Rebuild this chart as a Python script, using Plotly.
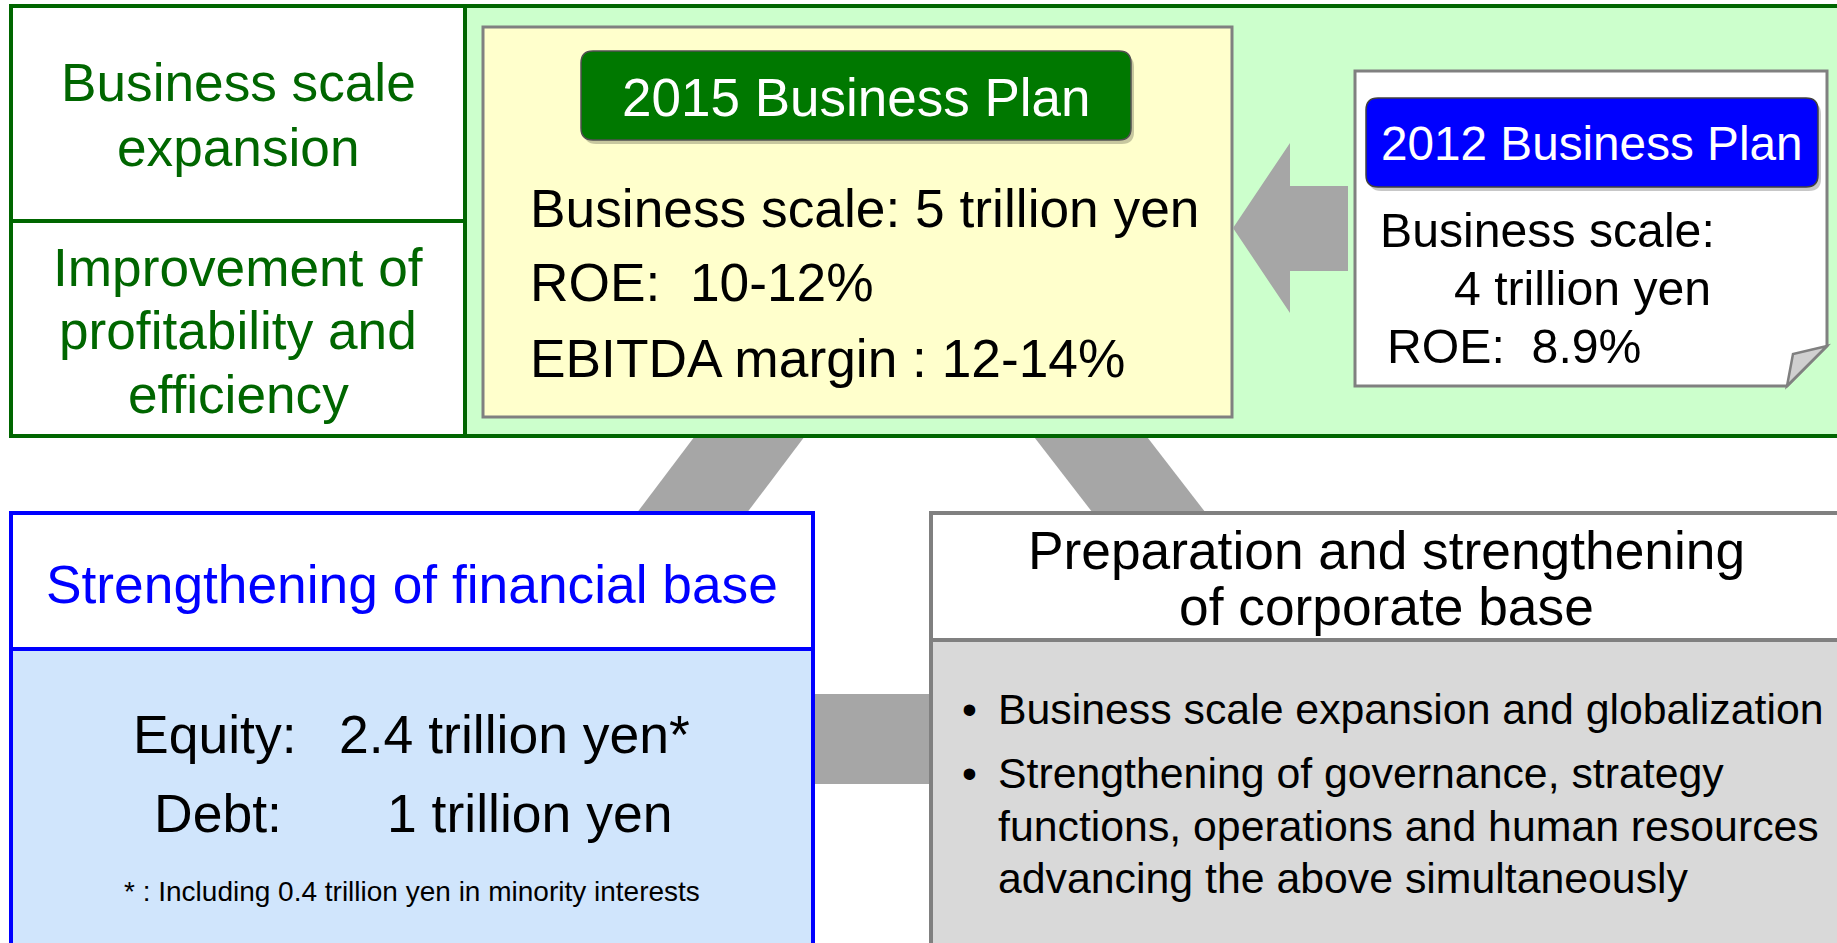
import plotly.graph_objects as go

W, H = 1837, 943
FONT = "Liberation Sans, Arial, sans-serif"

# ---------------- content ----------------
left_labels = ["Business scale", "expansion", "Improvement of", "profitability and", "efficiency"]
plan2015_title = "2015 Business Plan"
plan2015_items = ["Business scale: 5 trillion yen", "ROE:&nbsp; 10-12%", "EBITDA margin : 12-14%"]
plan2012_title = "2012 Business Plan"
plan2012_items = ["Business scale:", "4 trillion yen", "ROE:&nbsp; 8.9%"]
fin_title = "Strengthening of financial base"
fin_labels = ["Equity:", "Debt:"]
fin_values = ["2.4 trillion yen*", "1 trillion yen"]
fin_note = "* : Including 0.4 trillion yen in minority interests"
corp_title = ["Preparation and strengthening", "of corporate base"]
corp_bullets = ["Business scale expansion and globalization",
                "Strengthening of governance, strategy",
                "functions, operations and human resources",
                "advancing the above simultaneously"]
corp_bullet_starts = [True, True, False, False]

# ---------------- colours ----------------
GREEN_DARK = "#006600"
GREEN_FILL = "#CCFFCC"
YELLOW_FILL = "#FFFFCC"
BTN_GREEN = "#007800"
BTN_BLUE = "#0000FF"
GREY_LINE = "#808080"
CONNECT = "#A6A6A6"
BLUE_BODY = "#D0E5FC"
GREY_BODY = "#D9D9D9"

shapes = []
annotations = []


def rect(x0, y0, x1, y1, fill=None, line=None, width=0):
    shapes.append(dict(type="rect", xref="x", yref="y", x0=x0, y0=y0, x1=x1, y1=y1,
                       fillcolor=fill if fill else "rgba(0,0,0,0)",
                       line=dict(color=line if line else "rgba(0,0,0,0)", width=width)))


def poly(points, fill=None, line=None, width=0):
    d = "M " + " L ".join(f"{x},{y}" for x, y in points) + " Z"
    shapes.append(dict(type="path", xref="x", yref="y", path=d,
                       fillcolor=fill if fill else "rgba(0,0,0,0)",
                       line=dict(color=line if line else "rgba(0,0,0,0)", width=width)))


def seg(x0, y0, x1, y1, color, width):
    shapes.append(dict(type="line", xref="x", yref="y", x0=x0, y0=y0, x1=x1, y1=y1,
                       line=dict(color=color, width=width)))


def rrect(x0, y0, x1, y1, r, fill, line=None, width=0):
    d = (f"M {x0+r},{y0} L {x1-r},{y0} Q {x1},{y0} {x1},{y0+r} L {x1},{y1-r} "
         f"Q {x1},{y1} {x1-r},{y1} L {x0+r},{y1} Q {x0},{y1} {x0},{y1-r} "
         f"L {x0},{y0+r} Q {x0},{y0} {x0+r},{y0} Z")
    shapes.append(dict(type="path", xref="x", yref="y", path=d, fillcolor=fill,
                       line=dict(color=line if line else "rgba(0,0,0,0)", width=width)))


def text(x, baseline, s, size, color="black", anchor="center"):
    if anchor == "left":
        x -= 5
    annotations.append(dict(x=x, y=baseline - 0.35 * size + 1, xref="x", yref="y", text=s,
                            showarrow=False, xanchor=anchor, yanchor="middle",
                            font=dict(family=FONT, size=size, color=color)))


# ---------------- connectors (behind boxes) ----------------
poly([(707, 420), (817, 420), (734, 530), (624, 530)], fill=CONNECT)
poly([(1021, 420), (1134, 420), (1219, 530), (1106, 530)], fill=CONNECT)
rect(800, 694, 945, 784, fill=CONNECT)

# ---------------- top band ----------------
rect(11, 6, 465, 436, fill="white")
rect(465, 6, 1860, 436, fill=GREEN_FILL)
seg(465, 6, 465, 436, GREEN_DARK, 4)
seg(11, 221, 465, 221, GREEN_DARK, 4)
rect(11, 6, 1860, 436, line=GREEN_DARK, width=4)

# yellow 2015 plan box
rect(483, 27, 1232, 417, fill=YELLOW_FILL, line=GREY_LINE, width=3)
rrect(584, 55, 1134, 144, 12, "rgba(0,0,0,0.22)")
rrect(581, 51, 1131, 140, 12, BTN_GREEN, "#505050", 1.5)

# arrow from 2012 to 2015
poly([(1233, 228), (1290, 143), (1290, 186), (1348, 186), (1348, 271), (1290, 271), (1290, 313)],
     fill=CONNECT)

# 2012 document with folded corner
poly([(1355, 71), (1827, 71), (1827, 346), (1787, 386), (1355, 386)],
     fill="white", line=GREY_LINE, width=3)
poly([(1787, 386), (1793, 354), (1827, 346)], fill="#D0D0D0", line=GREY_LINE, width=2.5)
rrect(1369, 102, 1821, 191, 12, "rgba(0,0,0,0.22)")
rrect(1366, 98, 1818, 187, 12, BTN_BLUE, "#404040", 1.5)

# ---------------- financial base box ----------------
rect(11, 513, 813, 649, fill="white")
rect(11, 649, 813, 970, fill=BLUE_BODY)
seg(11, 649, 813, 649, BTN_BLUE, 4)
rect(11, 513, 813, 970, line=BTN_BLUE, width=4)

# ---------------- corporate base box ----------------
rect(931, 513, 1860, 640, fill="white")
rect(931, 640, 1860, 970, fill=GREY_BODY)
seg(931, 640, 1860, 640, GREY_LINE, 4)
rect(931, 513, 1860, 970, line=GREY_LINE, width=4)

# ---------------- texts ----------------
for s, b in zip(left_labels, [100, 165, 285, 348, 412]):
    text(238, b, s, 53.2, GREEN_DARK)

text(856, 115, plan2015_title, 53, "white")
for s, b in zip(plan2015_items, [226, 300, 376]):
    text(533, b, s, 53.3, anchor="left")

text(1592, 159, plan2012_title, 47.7, "white")
for s, xb, b in zip(plan2012_items, [1383, 1457, 1390], [246, 304, 362]):
    text(xb, b, s, 48.2, anchor="left")

text(412, 602, fin_title, 53.3, BTN_BLUE)
for lab, val, xl, xv, b in zip(fin_labels, fin_values, [136, 157], [342, 390], [752, 831]):
    text(xl, b, lab, 53.5, anchor="left")
    text(xv, b, val, 53.5, anchor="left")
text(412, 900, fin_note, 28)

for s, b in zip(corp_title, [568, 624]):
    text(1386, b, s, 53.3)
for s, isb, b in zip(corp_bullets, corp_bullet_starts, [723, 787, 840, 892]):
    if isb:
        text(965, b, "•", 42.5, anchor="left")
    text(1001, b, s, 42.8, anchor="left")

fig = go.Figure()
fig.update_layout(
    width=W, height=H,
    margin=dict(l=0, r=0, t=0, b=0),
    paper_bgcolor="white", plot_bgcolor="white",
    xaxis=dict(range=[0, W], visible=False, fixedrange=True),
    yaxis=dict(range=[H, 0], visible=False, fixedrange=True),
    shapes=shapes, annotations=annotations, showlegend=False,
)
# remove the default page margin so the figure fills the window exactly
fig.write_html("out.html",
               post_script="document.body.style.margin='0px';document.body.style.overflow='hidden';",
               config={"displayModeBar": False})
